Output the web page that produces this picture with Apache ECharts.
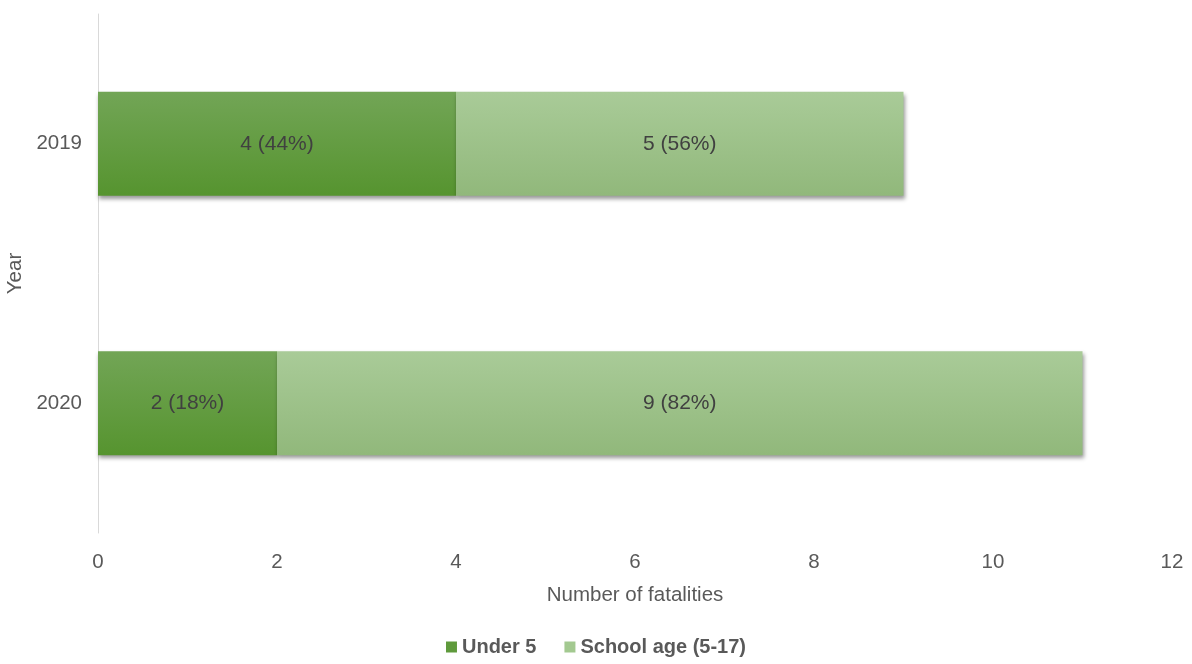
<!DOCTYPE html>
<html>
<head>
<meta charset="utf-8">
<script src="https://cdn.jsdelivr.net/npm/echarts@6/dist/echarts.min.js"></script>
<style>
  html, body { margin: 0; padding: 0; background: #ffffff; }
  #chart { width: 1192px; height: 664px; }
</style>
</head>
<body>
<div id="chart"></div>
<script>
// Road fatalities among children, by age group and year
const years = ['2019', '2020'];
const under5 = [4, 2];
const schoolAge = [5, 9];
const seriesNames = ['Under 5', 'School age (5-17)'];
const xTicks = [0, 2, 4, 6, 8, 10, 12];

const FONT = 'Liberation Sans, Arial, sans-serif';

function pctLabel(values, others) {
  return function (p) {
    const total = values[p.dataIndex] + others[p.dataIndex];
    return p.value + ' (' + Math.round(p.value / total * 100) + '%)';
  };
}

function grad(top, bottom) {
  return new echarts.graphic.LinearGradient(0, 0, 0, 1, [
    { offset: 0, color: top },
    { offset: 1, color: bottom }
  ]);
}

const barStyle = {
  shadowColor: 'rgba(0,0,0,0.4)',
  shadowBlur: 4,
  shadowOffsetX: 1,
  shadowOffsetY: 3
};

const chart = echarts.init(document.getElementById('chart'), null, { renderer: 'canvas' });
chart.setOption({
  animation: false,
  textStyle: { fontFamily: FONT },
  grid: { left: 98, right: 20, top: 14, bottom: 131, containLabel: false, outerBoundsMode: 'none' },
  legend: {
    bottom: 2,
    left: 'center',
    itemWidth: 11,
    itemHeight: 11,
    itemGap: 28,
    icon: 'rect',
    textStyle: { fontSize: 20, fontWeight: 'bold', color: '#595959', fontFamily: FONT },
    data: [
      { name: seriesNames[0], itemStyle: { color: '#5f9a3c' } },
      { name: seriesNames[1], itemStyle: { color: '#a3c990' } }
    ]
  },
  xAxis: {
    type: 'value',
    min: xTicks[0],
    max: xTicks[xTicks.length - 1],
    interval: 2,
    name: 'Number of fatalities',
    nameLocation: 'middle',
    nameGap: 52,
    nameTextStyle: { fontSize: 20.5, color: '#595959' },
    axisLine: { show: false },
    axisTick: { show: false },
    splitLine: { show: false },
    axisLabel: { fontSize: 20.5, color: '#595959', margin: 19 }
  },
  yAxis: {
    type: 'category',
    data: years,
    inverse: true,
    name: 'Year',
    nameLocation: 'middle',
    nameGap: 71,
    nameTextStyle: { fontSize: 20.5, color: '#595959' },
    axisLine: { show: true, lineStyle: { color: '#d9d9d9', width: 1 } },
    axisTick: { show: false },
    axisLabel: { fontSize: 20.5, color: '#595959', margin: 16 }
  },
  series: [
    {
      name: seriesNames[0],
      type: 'bar',
      stack: 'total',
      barWidth: '40%',
      data: under5,
      itemStyle: Object.assign({ color: grad('#72a556', '#56942f') }, barStyle),
      label: {
        show: true,
        position: 'inside',
        fontSize: 21,
        color: '#404040',
        fontFamily: FONT,
        formatter: pctLabel(under5, schoolAge)
      }
    },
    {
      name: seriesNames[1],
      type: 'bar',
      stack: 'total',
      barWidth: '40%',
      data: schoolAge,
      itemStyle: Object.assign({ color: grad('#a9cb98', '#91b87b') }, barStyle),
      label: {
        show: true,
        position: 'inside',
        fontSize: 21,
        color: '#404040',
        fontFamily: FONT,
        formatter: pctLabel(schoolAge, under5)
      }
    }
  ]
});
</script>
</body>
</html>
